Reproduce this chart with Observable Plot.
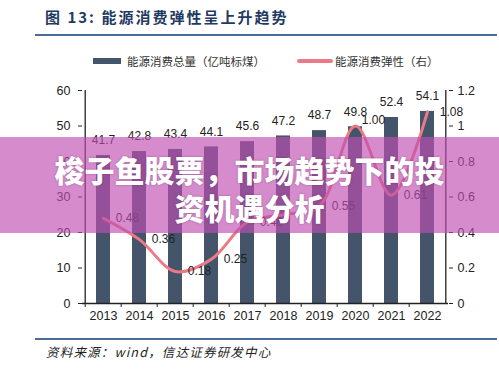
<!DOCTYPE html>
<html>
<head>
<meta charset="utf-8">
<script src="https://cdn.jsdelivr.net/npm/d3@7"></script>
<script src="https://cdn.jsdelivr.net/npm/@observablehq/plot@0.6"></script>
<style>
  html, body { margin: 0; padding: 0; background: #fff; }
  #wrap { position: relative; width: 499px; height: 372px; overflow: hidden; background: #fff;
          font-family: "Liberation Sans", Arial, "Noto Sans CJK SC", sans-serif; }
  #title { position: absolute; left: 45px; top: 7px; font-family: "Noto Sans CJK SC", sans-serif;
           font-weight: 700; font-size: 15px; letter-spacing: 2px; color: #1f3a63; line-height: 20px; }
  .hr { position: absolute; left: 35px; width: 462px; height: 2px; background: #4b6c96; }
  #legend { position: absolute; top: 52px; left: 0; width: 499px; height: 18px; font-size: 11.5px; color: #333;
            font-family: "Noto Sans CJK SC", sans-serif; }
  .lg { position: absolute; top: 0; line-height: 18px; white-space: nowrap; }
  .sw { position: absolute; }
  #chart { position: absolute; left: 0; top: 75px; }
  #source { position: absolute; left: 46px; top: 343px; font-size: 12.5px; font-style: italic; color: #222;
            letter-spacing: 1.2px; font-family: "Noto Sans CJK SC", "Liberation Sans", sans-serif; line-height: 18px; }
  #banner { position: absolute; left: 0; top: 137px; width: 499px; height: 96px; background: rgba(192,78,177,0.65); }
  #banner div { position: absolute; left: 0; width: 499px; text-align: center; color: #fff;
                font-family: "Noto Sans CJK SC", sans-serif; font-weight: 900; font-size: 30px; line-height: 38px;
                text-shadow: 0 0 2px rgba(90,30,80,0.5); }
</style>
</head>
<body>
<div id="wrap">
  <div id="title">图 13: 能源消费弹性呈上升趋势</div>
  <div class="hr" style="top:34px"></div>
  <div id="legend">
    <div class="sw" style="left:93px; top:6px; width:28px; height:6px; background:#44546A"></div>
    <div class="lg" style="left:127px">能源消费总量（亿吨标煤）</div>
    <div class="sw" style="left:297px; top:7px; width:36px; height:3.5px; border-radius:2px; background:#ec7a86"></div>
    <div class="lg" style="left:335px">能源消费弹性（右）</div>
  </div>
  <div id="chart"></div>
  <div class="hr" style="top:338px"></div>
  <div id="source">资料来源：wind，信达证券研发中心</div>
  <div id="banner">
    <div style="top:13px">梭子鱼股票，市场趋势下的投</div>
    <div style="top:51px">资机遇分析</div>
  </div>
</div>
<script>
const years = ["2013","2014","2015","2016","2017","2018","2019","2020","2021","2022"];
const consumption = [41.7, 42.8, 43.4, 44.1, 45.6, 47.2, 48.7, 49.8, 52.4, 54.1];
const elasticity = [0.48, 0.36, 0.18, 0.25, 0.46, 0.50, 0.55, 1.00, 0.61, 1.08];
const elasticityLabels = ["0.48", "0.36", "0.18", "0.25", "0.46", "", "0.55", "1.00", "0.61", "1.08"];
const leftTicks = [0, 10, 20, 30, 40, 50, 60];
const rightTicks = [0, 0.2, 0.4, 0.6, 0.8, 1.0, 1.2];

const leftMax = 60, rightMax = 1.2;
const k = leftMax / rightMax;

const data = years.map((year, i) => ({
  year, total: consumption[i], el: elasticity[i], elScaled: elasticity[i] * k, label: elasticityLabels[i]
}));

const W = 499, H = 260, mL = 82, mR = 51;
const step = (W - mL - mR) / years.length;

const chart = Plot.plot({
  width: W, height: H,
  marginLeft: mL, marginRight: mR, marginTop: 15, marginBottom: 32,
  style: { fontFamily: "'Liberation Sans', Arial, sans-serif", fontSize: "12px", color: "#222", background: "transparent" },
  x: { type: "band", domain: years, paddingInner: 0.6, paddingOuter: 0.3 },
  y: { domain: [0, leftMax] },
  marks: [
    Plot.barY(data, { x: "year", y: "total", fill: "#44546A" }),
    Plot.text(data, { x: "year", y: "total", text: d => d.total.toFixed(1), dy: -15, fontSize: 12, fill: "#222" }),
    Plot.line(data, { x: "year", y: "elScaled", curve: "catmull-rom", stroke: "#ec7a86", strokeWidth: 3 }),
    Plot.text(data.filter(d => d.label && d.label !== "1.00"), { x: "year", y: "elScaled", text: "label", dx: 24, fontSize: 12, fill: "#222" }),
    Plot.text(data.filter(d => d.label === "1.00"), { x: "year", y: "elScaled", text: "label", dx: 18, dy: -6, fontSize: 12, fill: "#222" }),
    Plot.ruleY([0], { stroke: "#222", strokeWidth: 1.3 }),
    Plot.ruleX([years[0]], { dx: -step / 2, stroke: "#222", strokeWidth: 1.3 }),
    Plot.ruleX([years[years.length - 1]], { dx: step / 2, stroke: "#222", strokeWidth: 1.3 }),
    Plot.axisY(leftTicks, { anchor: "left", tickSize: 4, tickPadding: 8, fontSize: 12.5, label: null, stroke: "#222" }),
    Plot.axisY(rightTicks.map(v => v * k), { anchor: "right", tickSize: 4, tickPadding: 5, fontSize: 12.5, label: null,
      tickFormat: d => String(+(d / k).toFixed(1)) }),
    Plot.axisX({ tickSize: 0, tickPadding: 8, fontSize: 12.5, label: null }),
    Plot.axisX({ tickSize: 4, dx: -step / 2, tickFormat: () => "", label: null })
  ]
});
document.getElementById("chart").appendChild(chart);
</script>
</body>
</html>
